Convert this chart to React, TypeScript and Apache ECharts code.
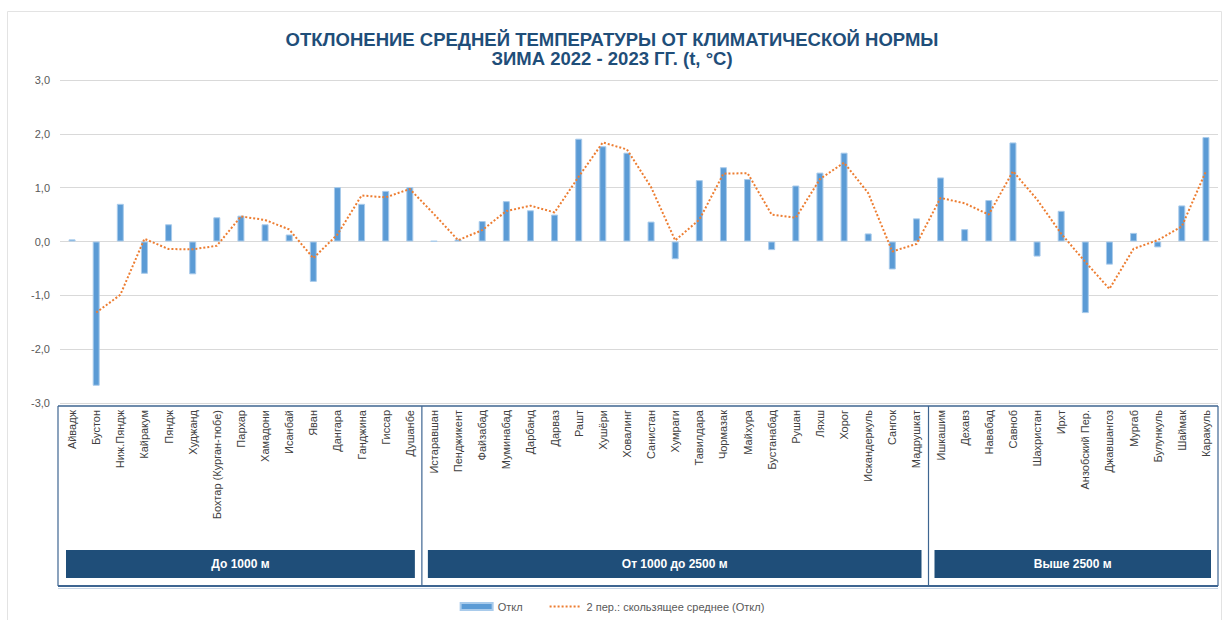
import React, { useEffect, useRef } from "react";
import * as echarts from "echarts";

const stationsLow = [
  "Айвадж", "Бустон", "Ниж.Пяндж", "Кайракум", "Пяндж", "Худжанд", "Бохтар (Курган-тюбе)",
  "Пархар", "Хамадони", "Исанбай", "Яван", "Дангара", "Ганджина", "Гиссар", "Душанбе",
];
const valuesLow = [0.04, -2.68, 0.7, -0.6, 0.32, -0.61, 0.45, 0.48, 0.32, 0.13, -0.75, 1.01, 0.7, 0.94, 1.01];

const stationsMid = [
  "Истаравшан", "Пенджикент", "Файзабад", "Муминабад", "Дарбанд", "Дарваз", "Рашт", "Хушёри",
  "Ховалинг", "Санистан", "Хумраги", "Тавилдара", "Чормазак", "Майхура", "Бустанабад", "Рушан",
  "Ляхш", "Хорог", "Искандеркуль", "Сангок", "Мадрушкат",
];
const valuesMid = [0.01, 0.04, 0.38, 0.75, 0.58, 0.5, 1.91, 1.77, 1.65, 0.37, -0.33, 1.14, 1.38, 1.16, -0.16, 1.04, 1.28, 1.65, 0.15, -0.52, 0.43];

const stationsHigh = [
  "Ишкашим", "Дехавз", "Навабад", "Савноб", "Шахристан", "Ирхт", "Анзобский Пер.", "Джавшангоз",
  "Мургаб", "Булункуль", "Шаймак", "Каракуль",
];
const valuesHigh = [1.19, 0.23, 0.77, 1.84, -0.28, 0.57, -1.33, -0.43, 0.16, -0.11, 0.67, 1.94];

const groupNames = ["До 1000 м", "От 1000 до 2500 м", "Выше 2500 м"];
const groupStations = [stationsLow, stationsMid, stationsHigh];

const yMin = -3;
const yMax = 3;
const yStep = 1;

const titleLines = [
  "ОТКЛОНЕНИЕ СРЕДНЕЙ ТЕМПЕРАТУРЫ ОТ КЛИМАТИЧЕСКОЙ НОРМЫ",
  "ЗИМА 2022 - 2023 ГГ. (t, °C)",
];
const barName = "Откл";
const maName = "2 пер.: скользящее среднее (Откл)";

export default function App() {
  const ref = useRef<HTMLDivElement>(null);

  useEffect(() => {
    if (!ref.current) return;
    const categories = [...stationsLow, ...stationsMid, ...stationsHigh];
    const values = [...valuesLow, ...valuesMid, ...valuesHigh];
    const movingAvg = values.map((v, i) =>
      i === 0 ? null : Math.round(((values[i - 1] + v) / 2) * 1000) / 1000
    );
    const font = "'Liberation Sans', Arial, sans-serif";

    const chart = echarts.init(ref.current, null, { renderer: "svg" });
    chart.setOption({
      animation: false,
      backgroundColor: "#ffffff",
      title: {
        text: titleLines.join("\n"),
        left: "center",
        top: 25,
        textStyle: {
          fontFamily: font,
          fontSize: 18.5,
          fontWeight: "bold",
          color: "#1F4E79",
          lineHeight: 19,
        },
      },
      grid: { left: 60, right: 6, top: 80, bottom: 217, containLabel: false },
      legend: {
        bottom: 3,
        left: "center",
        itemGap: 26,
        itemWidth: 32,
        itemHeight: 7,
        textStyle: { fontFamily: font, fontSize: 11, color: "#595959" },
        data: [
          { name: barName, icon: "rect" },
          { name: maName, itemStyle: { opacity: 0 } },
        ],
      },
      xAxis: {
        type: "category",
        data: categories,
        boundaryGap: true,
        axisLine: { show: false },
        axisTick: { show: false },
        axisLabel: {
          rotate: 90,
          interval: 0,
          margin: 7,
          fontFamily: font,
          fontSize: 11,
          color: "#404040",
        },
      },
      yAxis: {
        type: "value",
        min: yMin,
        max: yMax,
        interval: yStep,
        axisLine: { show: false },
        axisTick: { show: false },
        axisLabel: {
          margin: 10,
          fontFamily: font,
          fontSize: 11,
          color: "#595959",
          formatter: (v: number) => v.toFixed(1).replace(".", ","),
        },
        splitLine: { lineStyle: { color: "#D9D9D9", width: 1 } },
      },
      series: [
        {
          name: barName,
          type: "bar",
          data: values,
          barWidth: 7,
          itemStyle: { color: "#5B9BD5", borderColor: "#A9CBEB", borderWidth: 1 },
        },
        {
          name: maName,
          type: "line",
          data: movingAvg,
          symbol: "none",
          connectNulls: false,
          lineStyle: { color: "#ED7D31", width: 2, type: [2, 2] },
          itemStyle: { color: "#ED7D31" },
        },
      ],
    });

    const px = (i: number) => chart.convertToPixel({ xAxisIndex: 0 }, i) as number;
    const step = px(1) - px(0);
    const left = px(0) - step / 2;
    const bounds = [left];
    let acc = 0;
    groupStations.forEach((g) => {
      acc += g.length;
      bounds.push(left + acc * step);
    });
    const axisY = chart.convertToPixel({ yAxisIndex: 0 }, yMin) as number;
    const boxTop = axisY + 3;
    const boxBottom = boxTop + 180;
    const boxColor = "#3E6591";

    const elements: any[] = [];
    elements.push({
      type: "rect",
      shape: { x: 7.5, y: 11.5, width: 1214, height: 620 },
      style: { fill: "none", stroke: "#E3E3E3", lineWidth: 1 },
      silent: true,
    });
    elements.push({
      type: "line",
      shape: { x1: bounds[0] - 2, y1: boxTop, x2: bounds[bounds.length - 1], y2: boxTop },
      style: { stroke: boxColor, lineWidth: 1.5 },
    });
    elements.push({
      type: "line",
      shape: { x1: bounds[0] - 2, y1: boxBottom, x2: bounds[bounds.length - 1], y2: boxBottom },
      style: { stroke: boxColor, lineWidth: 2 },
    });
    elements.push({
      type: "line",
      shape: { x1: bounds[0] - 2, y1: boxBottom + 2.5, x2: bounds[bounds.length - 1], y2: boxBottom + 2.5 },
      style: { stroke: "#C9D6E6", lineWidth: 1 },
    });
    bounds.forEach((b, i) => {
      const x = i === 0 ? b - 2 : b;
      elements.push({
        type: "line",
        shape: { x1: x, y1: boxTop, x2: x, y2: boxBottom },
        style: { stroke: boxColor, lineWidth: 1.2 },
      });
    });
    groupNames.forEach((name, i) => {
      const x0 = bounds[i] + 6;
      const x1 = bounds[i + 1] - 7;
      elements.push({
        type: "rect",
        shape: { x: x0, y: boxTop + 144, width: x1 - x0, height: 28 },
        style: { fill: "#1F4E79" },
      });
      elements.push({
        type: "text",
        x: (x0 + x1) / 2,
        y: boxTop + 158,
        style: {
          text: name,
          fill: "#ffffff",
          font: `bold 12px ${font}`,
          align: "center",
          verticalAlign: "middle",
        },
      });
    });
    chart.setOption({ graphic: { elements } });

    return () => chart.dispose();
  }, []);

  return (
    <div
      ref={ref}
      style={{ position: "absolute", left: 0, top: 0, width: 1224, height: 620 }}
    />
  );
}
